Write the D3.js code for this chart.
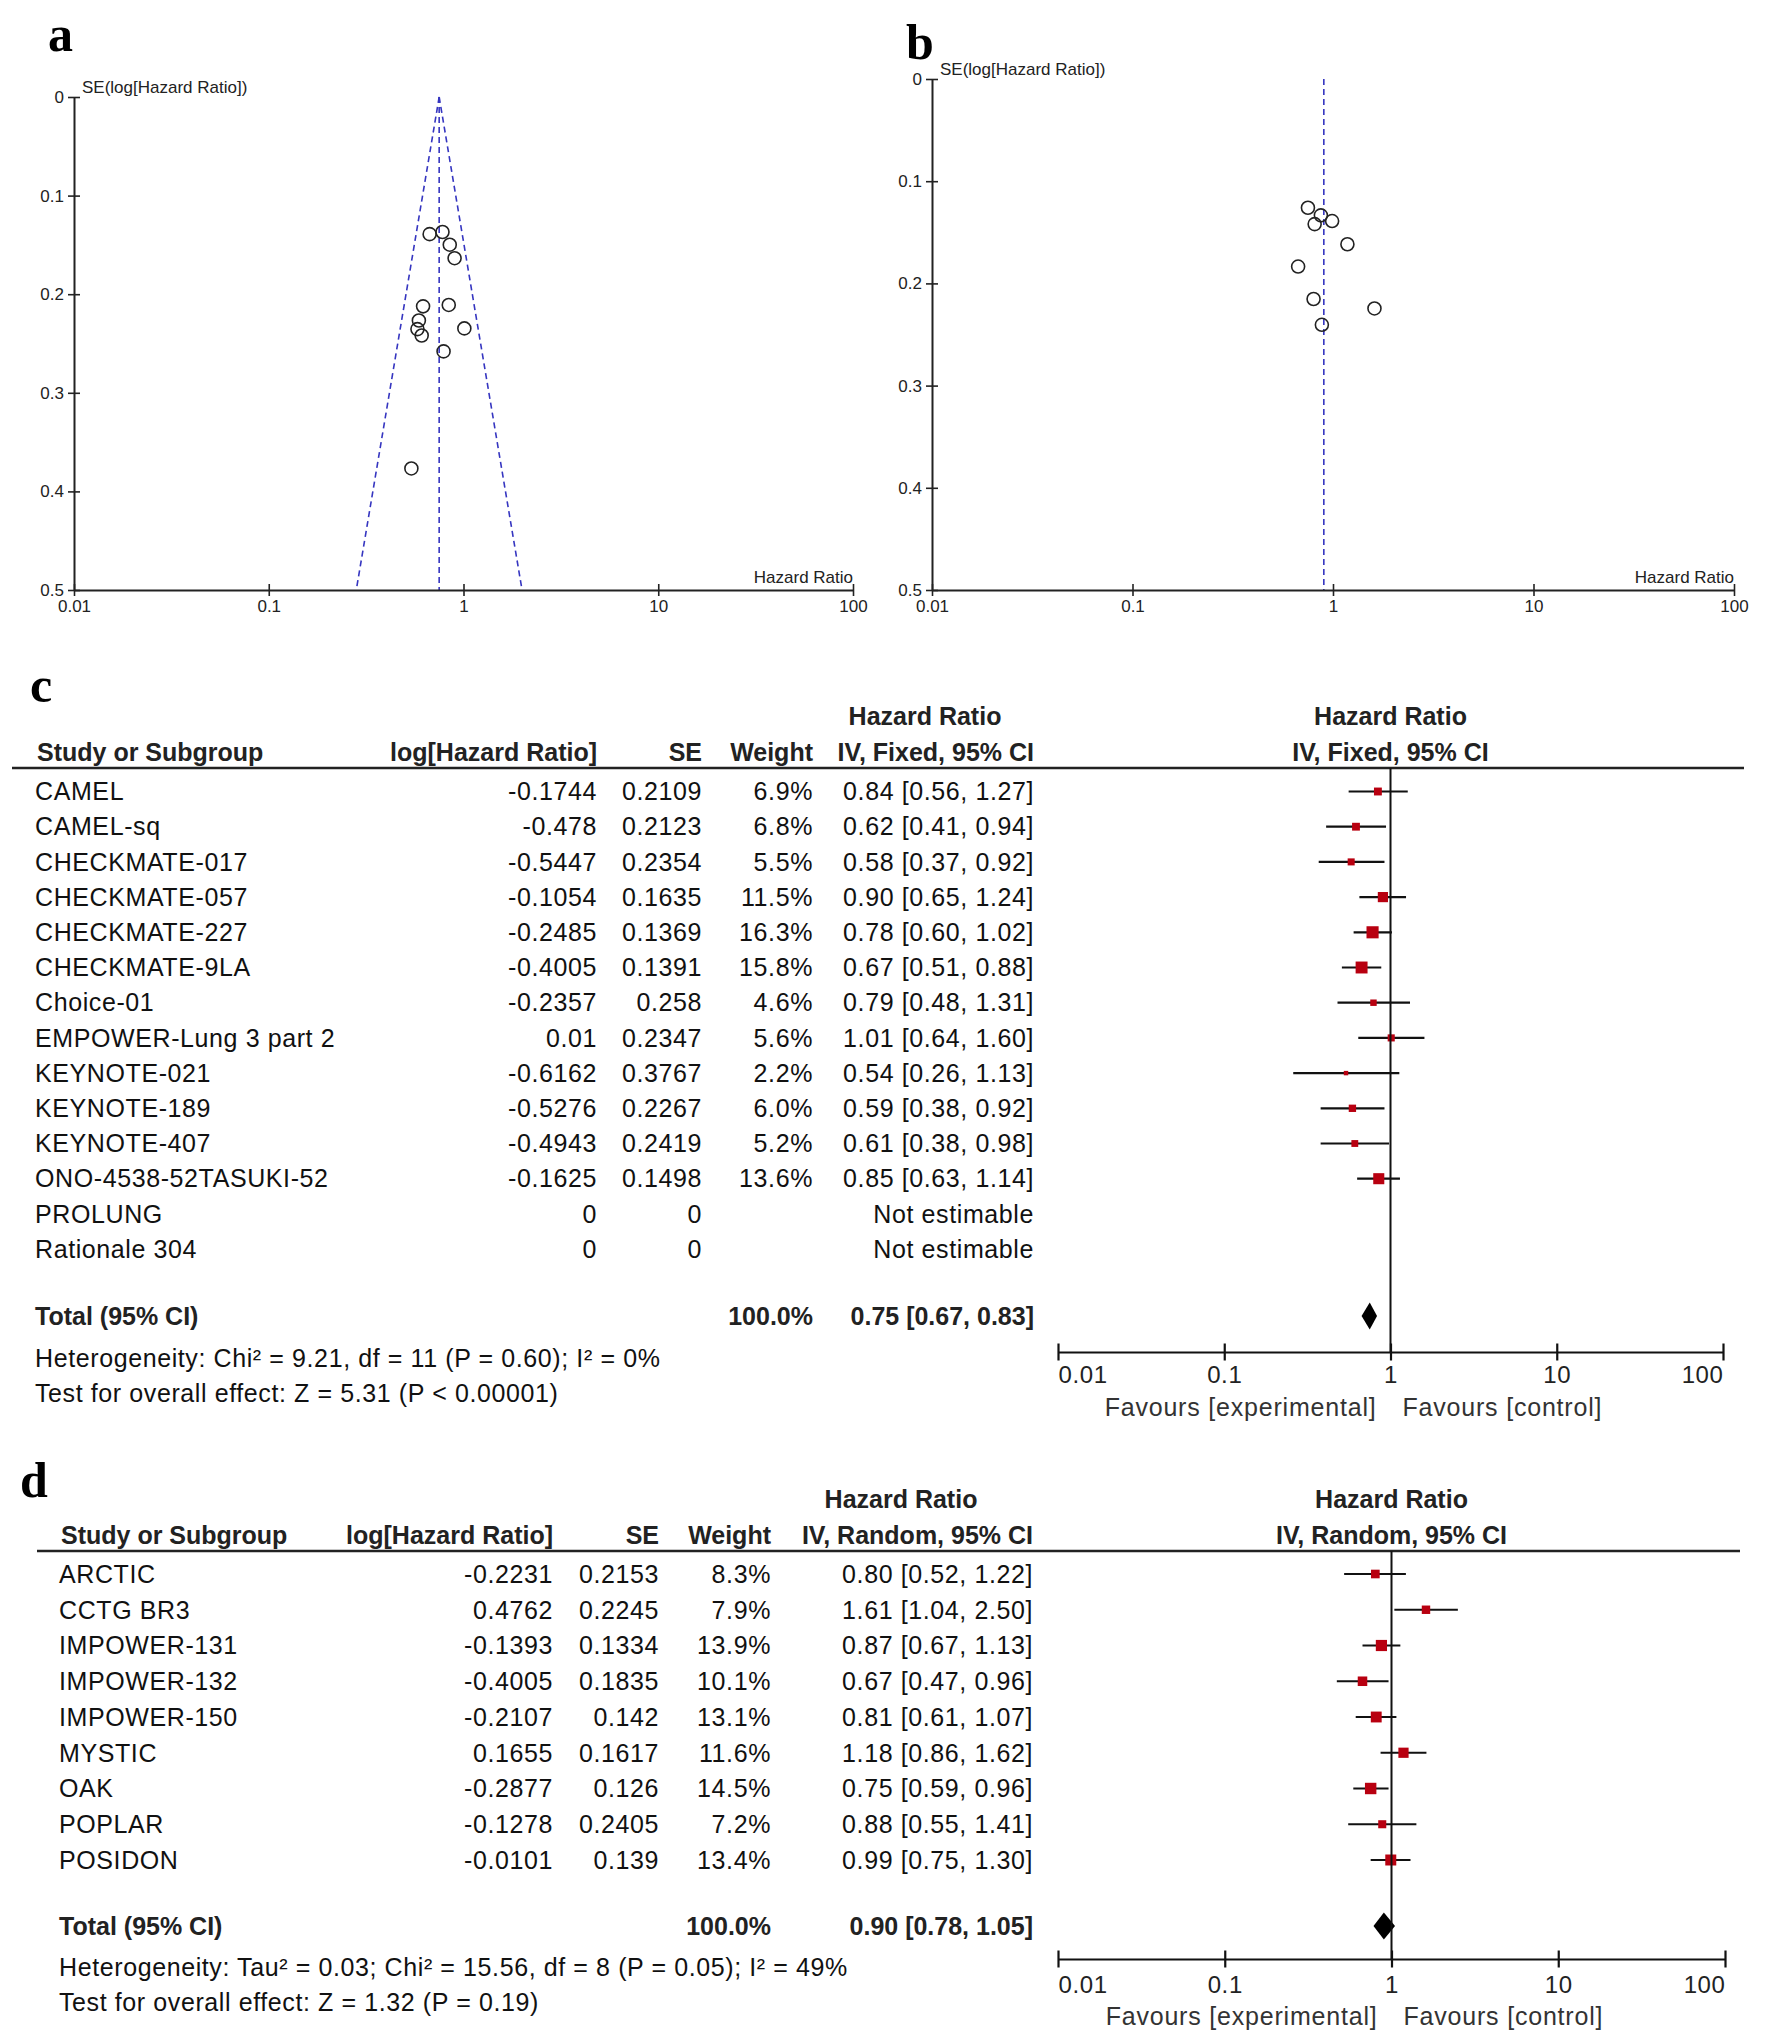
<!DOCTYPE html>
<html><head><meta charset="utf-8">
<script src="https://cdn.jsdelivr.net/npm/d3@7"></script>
<style>
body{margin:0;background:#fff;}
svg{display:block;font-family:"Liberation Sans",Arial,sans-serif;}
</style>
</head><body>
<svg id="chart" width="1772" height="2042"></svg>
<script>
// ---------- Panel c data (IV, Fixed) ----------
const studiesC = ["CAMEL","CAMEL-sq","CHECKMATE-017","CHECKMATE-057","CHECKMATE-227","CHECKMATE-9LA","Choice-01","EMPOWER-Lung 3 part 2","KEYNOTE-021","KEYNOTE-189","KEYNOTE-407","ONO-4538-52TASUKI-52","PROLUNG","Rationale 304"];
const logHRC = [-0.1744,-0.478,-0.5447,-0.1054,-0.2485,-0.4005,-0.2357,0.01,-0.6162,-0.5276,-0.4943,-0.1625,0,0];
const seC = [0.2109,0.2123,0.2354,0.1635,0.1369,0.1391,0.258,0.2347,0.3767,0.2267,0.2419,0.1498,0,0];
const weightC = [6.9,6.8,5.5,11.5,16.3,15.8,4.6,5.6,2.2,6.0,5.2,13.6,null,null];
const hrC = [0.84,0.62,0.58,0.90,0.78,0.67,0.79,1.01,0.54,0.59,0.61,0.85,null,null];
const lowC = [0.56,0.41,0.37,0.65,0.60,0.51,0.48,0.64,0.26,0.38,0.38,0.63,null,null];
const highC = [1.27,0.94,0.92,1.24,1.02,0.88,1.31,1.60,1.13,0.92,0.98,1.14,null,null];
const totalC = [0.75,0.67,0.83];
const hetC = "Heterogeneity: Chi\u00B2 = 9.21, df = 11 (P = 0.60); I\u00B2 = 0%";
const testC = "Test for overall effect: Z = 5.31 (P < 0.00001)";

// ---------- Panel d data (IV, Random) ----------
const studiesD = ["ARCTIC","CCTG BR3","IMPOWER-131","IMPOWER-132","IMPOWER-150","MYSTIC","OAK","POPLAR","POSIDON"];
const logHRD = [-0.2231,0.4762,-0.1393,-0.4005,-0.2107,0.1655,-0.2877,-0.1278,-0.0101];
const seD = [0.2153,0.2245,0.1334,0.1835,0.142,0.1617,0.126,0.2405,0.139];
const weightD = [8.3,7.9,13.9,10.1,13.1,11.6,14.5,7.2,13.4];
const hrD = [0.80,1.61,0.87,0.67,0.81,1.18,0.75,0.88,0.99];
const lowD = [0.52,1.04,0.67,0.47,0.61,0.86,0.59,0.55,0.75];
const highD = [1.22,2.50,1.13,0.96,1.07,1.62,0.96,1.41,1.30];
const totalD = [0.90,0.78,1.05];
const hetD = "Heterogeneity: Tau\u00B2 = 0.03; Chi\u00B2 = 15.56, df = 8 (P = 0.05); I\u00B2 = 49%";
const testD = "Test for overall effect: Z = 1.32 (P = 0.19)";

// ---------- Tick labels ----------
const hrTicks = [0.01,0.1,1,10,100];
const hrTickLabels = ["0.01","0.1","1","10","100"];
const seTicks = [0,0.1,0.2,0.3,0.4,0.5];
const seTickLabels = ["0","0.1","0.2","0.3","0.4","0.5"];

const svg = d3.select("#chart");
svg.append("rect").attr("width",1772).attr("height",2042).attr("fill","#fff");

function panelLetter(t,x,y){
  svg.append("text").attr("x",x).attr("y",y).text(t)
    .attr("font-family","'Liberation Serif','Times New Roman',serif")
    .attr("font-weight","bold").attr("font-size",50).attr("fill","#000");
}

// ---------- Funnel plot ----------
function funnel(cfg){
  const g = svg.append("g");
  const x = d3.scaleLog().domain([0.01,100]).range([cfg.x0,cfg.x1]);
  const y = d3.scaleLinear().domain([0,0.5]).range([cfg.y0,cfg.y1]);
  const blue = "#3535c0";
  const pl = Math.log(cfg.pooled);
  if(cfg.triangle){
    [-1,1].forEach(s=>{
      g.append("line").attr("x1",x(cfg.pooled)).attr("y1",y(0))
        .attr("x2",x(Math.exp(pl+s*1.96*0.5))).attr("y2",y(0.5))
        .attr("stroke",blue).attr("stroke-width",1.6).attr("stroke-dasharray","6,4");
    });
  }
  g.append("line").attr("x1",x(cfg.pooled)).attr("x2",x(cfg.pooled))
    .attr("y1",y(0)).attr("y2",y(0.5))
    .attr("stroke",blue).attr("stroke-width",1.6).attr("stroke-dasharray","6,4");
  const ya = g.append("g").attr("transform",`translate(${cfg.x0},0)`)
    .call(d3.axisLeft(y).tickValues(seTicks).tickFormat((d,i)=>seTickLabels[i]).tickSizeOuter(0).tickSizeInner(6));
  const xa = g.append("g").attr("transform",`translate(0,${cfg.y1})`)
    .call(d3.axisBottom(x).tickValues(hrTicks).tickFormat((d,i)=>hrTickLabels[i]).tickSizeOuter(0).tickSizeInner(6));
  [ya,xa].forEach(a=>{
    a.select(".domain").attr("stroke","#222").attr("stroke-width",2);
    a.selectAll(".tick line").attr("stroke","#222").attr("stroke-width",1.6);
    a.selectAll(".tick text").attr("font-size",17).attr("fill","#222")
      .attr("font-family","'Liberation Sans',Arial,sans-serif");
  });
  ya.selectAll(".tick line").attr("x1",-6).attr("x2",6);
  ya.selectAll(".tick text").attr("x",-10);
  xa.selectAll(".tick line").attr("y1",-6).attr("y2",6);
  xa.selectAll(".tick text").attr("y",10);
  g.append("text").attr("x",cfg.x0+8).attr("y",cfg.seLabelY).attr("dy","0.35em")
    .attr("font-size",17).attr("fill","#222").text("SE(log[Hazard Ratio])");
  g.append("text").attr("x",cfg.x1).attr("y",cfg.y1-13).attr("dy","0.35em")
    .attr("text-anchor","end").attr("font-size",17).attr("fill","#222").text("Hazard Ratio");
  const pts = cfg.logHR.map((v,i)=>({hr:Math.exp(v),se:cfg.se[i]})).filter(d=>d.se>0);
  g.selectAll("circle.pt").data(pts).enter().append("circle")
    .attr("cx",d=>x(d.hr)).attr("cy",d=>y(d.se)).attr("r",6.5)
    .attr("fill","none").attr("stroke","#222").attr("stroke-width",1.6);
}

panelLetter("a",48,51);
funnel({x0:74,x1:853,y0:97,y1:590,pooled:totalC[0],triangle:true,logHR:logHRC,se:seC,seLabelY:87});
panelLetter("b",906,59);
funnel({x0:932,x1:1734,y0:79,y1:590,pooled:totalD[0],triangle:false,logHR:logHRD,se:seD,seLabelY:69});

// ---------- Forest plot ----------
function fmt2(v){return v.toFixed(2);}
function forest(cfg){
  const g = svg.append("g").attr("fill","#111");
  const x = d3.scaleLog().domain([0.01,100]).range([cfg.ax0,cfg.ax1]);
  const txt = (t,xx,yy,anchor,bold,opt={})=>{
    const e = g.append("text").attr("x",xx).attr("y",yy).attr("dy","0.35em")
      .attr("text-anchor",anchor||"start").attr("font-size",opt.size||25)
      .attr("fill",opt.fill||(bold?"#222":"#111")).text(t);
    if(bold) e.attr("font-weight","bold"); else e.attr("letter-spacing",opt.ls!=null?opt.ls:0.6);
    return e;
  };
  txt("Hazard Ratio",cfg.h1x,cfg.h1y,"middle",true);
  txt("Hazard Ratio",x(1),cfg.h1y,"middle",true);
  txt("Study or Subgroup",cfg.nameHx,cfg.h2y,"start",true);
  txt("log[Hazard Ratio]",cfg.cLog,cfg.h2y,"end",true);
  txt("SE",cfg.cSE,cfg.h2y,"end",true);
  txt("Weight",cfg.cW,cfg.h2y,"end",true);
  txt(cfg.method,cfg.cCI,cfg.h2y,"end",true);
  txt(cfg.method,x(1),cfg.h2y,"middle",true);
  g.append("line").attr("x1",cfg.lineX0).attr("x2",cfg.lineX1).attr("y1",cfg.lineY).attr("y2",cfg.lineY)
    .attr("stroke","#222").attr("stroke-width",2.5);
  cfg.names.forEach((n,i)=>{
    const yy = cfg.row0 + i*cfg.step;
    txt(n,cfg.nameX,yy,"start",false);
    txt(String(cfg.logHR[i]),cfg.cLog,yy,"end",false);
    txt(String(cfg.se[i]),cfg.cSE,yy,"end",false);
    if(cfg.w[i]!=null){
      txt(cfg.w[i].toFixed(1)+"%",cfg.cW,yy,"end",false);
      txt(`${fmt2(cfg.hr[i])} [${fmt2(cfg.lo[i])}, ${fmt2(cfg.hi[i])}]`,cfg.cCI,yy,"end",false);
      g.append("line").attr("x1",x(cfg.lo[i])).attr("x2",x(cfg.hi[i])).attr("y1",yy).attr("y2",yy)
        .attr("stroke","#111").attr("stroke-width",2.2);
      const s = 3.0*Math.sqrt(cfg.w[i]);
      g.append("rect").attr("x",x(cfg.hr[i])-s/2).attr("y",yy-s/2).attr("width",s).attr("height",s)
        .attr("fill","#b80010");
    } else {
      txt("Not estimable",cfg.cCI,yy,"end",false);
    }
  });
  txt("Total (95% CI)",cfg.nameX,cfg.totY,"start",true);
  txt("100.0%",cfg.cW,cfg.totY,"end",true);
  txt(`${fmt2(cfg.total[0])} [${fmt2(cfg.total[1])}, ${fmt2(cfg.total[2])}]`,cfg.cCI,cfg.totY,"end",true);
  const dh = 13.5;
  g.append("path").attr("d",`M${x(cfg.total[1])},${cfg.totY}L${x(cfg.total[0])},${cfg.totY-dh}L${x(cfg.total[2])},${cfg.totY}L${x(cfg.total[0])},${cfg.totY+dh}Z`)
    .attr("fill","#000");
  txt(cfg.het,cfg.nameX,cfg.hetY,"start",false);
  txt(cfg.test,cfg.nameX,cfg.testY,"start",false);
  g.append("line").attr("x1",x(1)).attr("x2",x(1)).attr("y1",cfg.lineY).attr("y2",cfg.axY)
    .attr("stroke","#111").attr("stroke-width",2);
  const ax = g.append("g").attr("transform",`translate(0,${cfg.axY})`)
    .call(d3.axisBottom(x).tickValues(hrTicks).tickFormat((d,i)=>hrTickLabels[i]).tickSizeOuter(0).tickSizeInner(8.5));
  ax.select(".domain").attr("stroke","#111").attr("stroke-width",2.2);
  ax.selectAll(".tick line").attr("stroke","#111").attr("stroke-width",2.2).attr("y1",-8.5).attr("y2",8.5);
  ax.selectAll(".tick text").attr("font-size",24).attr("fill","#222").attr("letter-spacing",0.6)
    .attr("font-family","'Liberation Sans',Arial,sans-serif")
    .attr("y",cfg.tickLabY-cfg.axY).attr("dy","0.35em")
    .attr("text-anchor",(d,i)=> i===0?"start":(i===hrTicks.length-1?"end":"middle"));
  txt("Favours [experimental]",x(1)-14,cfg.favY,"end",false,{fill:"#333",ls:0.8});
  txt("Favours [control]",x(1)+12,cfg.favY,"start",false,{fill:"#333",ls:0.8});
}

panelLetter("c",30,702);
forest({
  names:studiesC,logHR:logHRC,se:seC,w:weightC,hr:hrC,lo:lowC,hi:highC,total:totalC,het:hetC,test:testC,
  method:"IV, Fixed, 95% CI",
  ax0:1058,ax1:1723,h1x:925,h1y:716,h2y:752,lineY:768,lineX0:12,lineX1:1744,
  nameHx:37,nameX:35,cLog:597,cSE:702,cW:813,cCI:1034,
  row0:791.5,step:35.2,totY:1316,hetY:1358,testY:1393,axY:1352,tickLabY:1375,favY:1407
});
panelLetter("d",20,1497);
forest({
  names:studiesD,logHR:logHRD,se:seD,w:weightD,hr:hrD,lo:lowD,hi:highD,total:totalD,het:hetD,test:testD,
  method:"IV, Random, 95% CI",
  ax0:1058,ax1:1725,h1x:901,h1y:1499,h2y:1535,lineY:1551,lineX0:37,lineX1:1740,
  nameHx:61,nameX:59,cLog:553,cSE:659,cW:771,cCI:1033,
  row0:1574,step:35.75,totY:1926,hetY:1967,testY:2002,axY:1959,tickLabY:1985,favY:2016
});
</script>
</body></html>
